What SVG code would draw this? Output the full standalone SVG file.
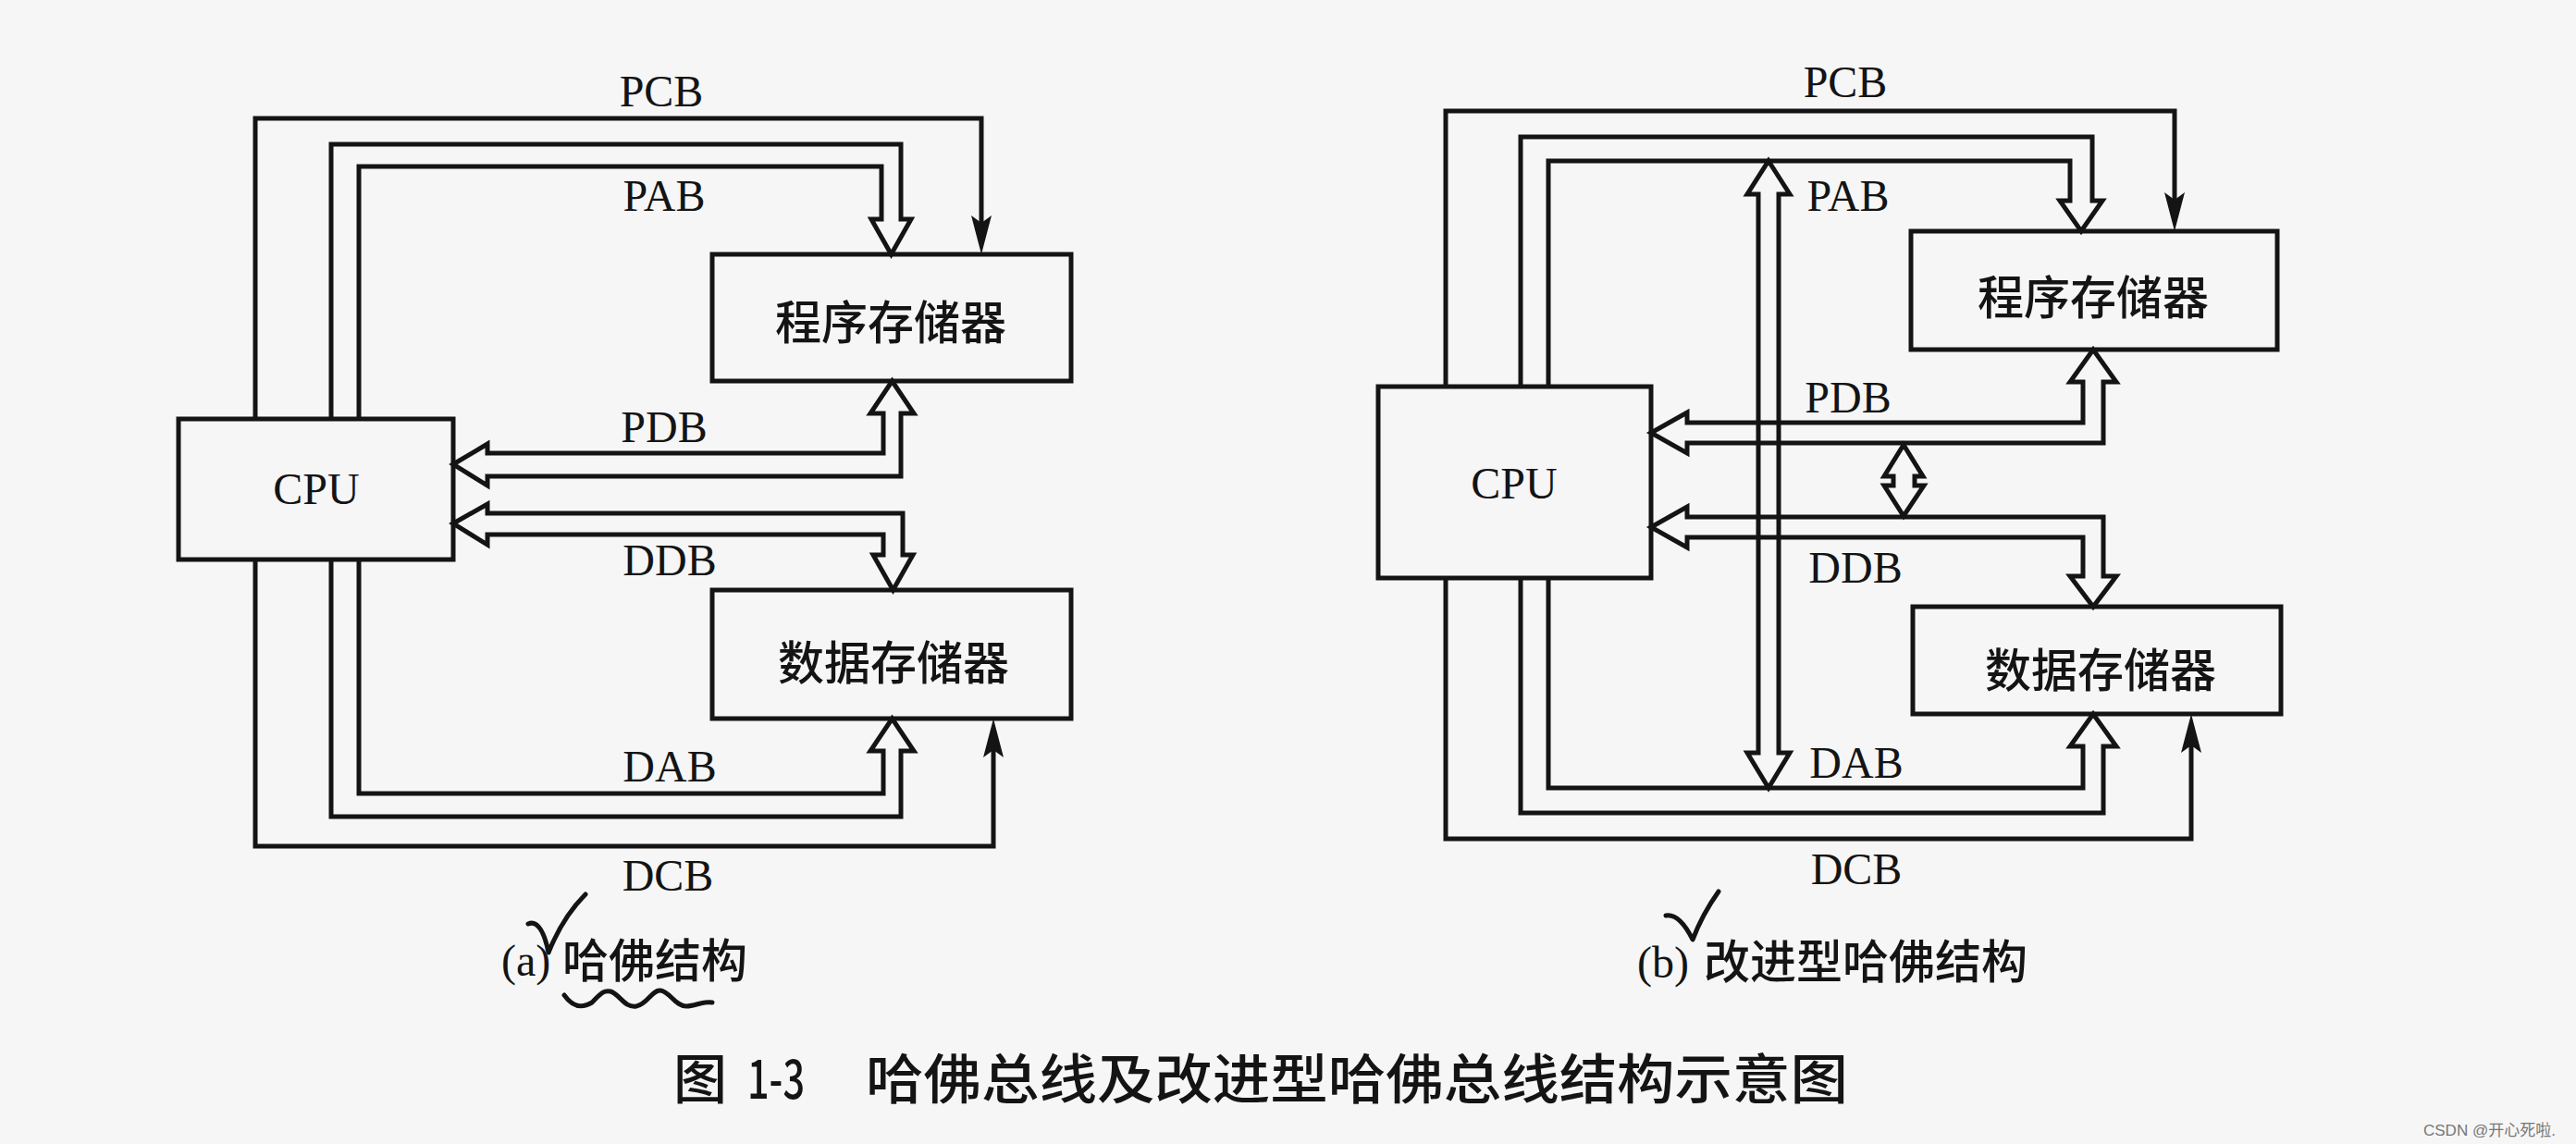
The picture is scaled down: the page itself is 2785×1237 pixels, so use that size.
<svg xmlns="http://www.w3.org/2000/svg" width="2785" height="1237" viewBox="0 0 2785 1237">
  <style>
    .box { fill: none; stroke: #141414; stroke-width: 5; }
    .bus { fill: none; stroke: #141414; stroke-width: 5; stroke-linejoin: miter; }
    .ctl { fill: none; stroke: #141414; stroke-width: 5; }
    .lat { font-family: "Liberation Serif", "Times New Roman", serif; font-size: 48px; fill: #141414; }
    .cjk { font-family: "Noto Sans CJK SC", "Noto Sans", sans-serif; font-size: 50px; fill: #141414; font-weight: 500; }
    .cap { font-family: "Noto Sans CJK SC", "Noto Sans", sans-serif; font-size: 58px; fill: #141414; font-weight: 500; }
    .hand { fill: none; stroke: #141414; stroke-width: 5; stroke-linecap: round; stroke-linejoin: round; }
    .wm { font-family: "Liberation Sans", "Noto Sans CJK SC", sans-serif; font-size: 17px; fill: #777777; }
  </style>
  <defs>
    <marker id="solid" markerUnits="userSpaceOnUse" markerWidth="60" markerHeight="40" refX="0" refY="0" orient="auto" overflow="visible" viewBox="-20 -20 60 40">
      <path d="M30,0 L-12,-11 L-4,0 L-12,11 Z" fill="#141414"/>
    </marker>
  </defs>
  <rect x="0" y="0" width="2785" height="1237" fill="#f6f6f6"/>

  <!-- Diagram (a) nodes -->
  <g id="cpu-a">
    <rect class="box" x="193" y="453" width="297" height="152"/>
    <text class="lat" x="342" y="545" text-anchor="middle">CPU</text>
  </g>
  <g id="prog-a">
    <rect class="box" x="770" y="275" width="388" height="137"/>
    <text class="cjk" x="963" y="367" text-anchor="middle">程序存储器</text>
  </g>
  <g id="data-a">
    <rect class="box" x="770" y="638" width="388" height="139"/>
    <text class="cjk" x="966" y="735" text-anchor="middle">数据存储器</text>
  </g>

  <!-- Diagram (b) nodes -->
  <g id="cpu-b">
    <rect class="box" x="1490" y="418" width="295" height="207"/>
    <text class="lat" x="1637" y="539" text-anchor="middle">CPU</text>
  </g>
  <g id="prog-b">
    <rect class="box" x="2066" y="250" width="396" height="128"/>
    <text class="cjk" x="2263" y="340" text-anchor="middle">程序存储器</text>
  </g>
  <g id="data-b">
    <rect class="box" x="2068" y="656" width="398" height="116"/>
    <text class="cjk" x="2271" y="743" text-anchor="middle">数据存储器</text>
  </g>

  <!-- Connectors -->
  <g id="connectors">
    <!-- (a) PCB -->
    <path class="ctl" d="M276,453 V128 H1061 V245" marker-end="url(#solid)"/>
    <!-- (a) PAB -->
    <path class="bus" d="M388,453 V180 H953 V237 H942 L963.5,275 L985,237 H974 V156 H358 V453"/>
    <!-- (a) PDB -->
    <path class="bus" d="M490,502 L527,480 V490 H955 V447 H941 L964.5,412 L988,447 H974 V515 H527 V525 Z"/>
    <!-- (a) DDB -->
    <path class="bus" d="M490,566 L527,545 V555 H976 V600 H987 L965.5,638 L944,600 H955 V578 H527 V589 Z"/>
    <!-- (a) DAB -->
    <path class="bus" d="M388,605 V858 H955 V812 H941 L964.5,777 L988,812 H974 V883 H358 V605"/>
    <!-- (a) DCB -->
    <path class="ctl" d="M276,605 V915 H1074 V807" marker-end="url(#solid)"/>

    <!-- (b) PCB -->
    <path class="ctl" d="M1563,418 V120 H2351 V220" marker-end="url(#solid)"/>
    <!-- (b) PAB -->
    <path class="bus" d="M1674,418 V174 H2238 V217 H2227 L2250,250 L2273,217 H2262 V148 H1644 V418"/>
    <!-- (b) PAB-DAB link -->
    <path class="bus" d="M1912,174 L1935,210 H1923 V814 H1935 L1912,852 L1889,814 H1901 V210 H1889 Z"/>
    <!-- (b) PDB -->
    <path class="bus" d="M1785,468 L1824,446 V457 H2252 V413 H2238 L2263,378 L2288,413 H2274 V479 H1824 V490 Z"/>
    <!-- (b) PDB-DDB link -->
    <path class="bus" d="M2058,481 L2079,515 H2070 V525 H2080 L2058,558 L2037,525 H2047 V515 H2037 Z"/>
    <!-- (b) DDB -->
    <path class="bus" d="M1785,570 L1824,548 V559 H2274 V623 H2288 L2263,656 L2238,623 H2252 V581 H1824 V592 Z"/>
    <!-- (b) DAB -->
    <path class="bus" d="M1674,625 V852 H2252 V807 H2238 L2263,772 L2288,807 H2274 V879 H1644 V625"/>
    <!-- (b) DCB -->
    <path class="ctl" d="M1563,625 V907 H2369 V802" marker-end="url(#solid)"/>
  </g>

  <!-- Bus labels -->
  <g id="labels-a">
    <text class="lat" x="715" y="115" text-anchor="middle">PCB</text>
    <text class="lat" x="718" y="228" text-anchor="middle">PAB</text>
    <text class="lat" x="718" y="478" text-anchor="middle">PDB</text>
    <text class="lat" x="724" y="622" text-anchor="middle">DDB</text>
    <text class="lat" x="724" y="845" text-anchor="middle">DAB</text>
    <text class="lat" x="722" y="963" text-anchor="middle">DCB</text>
  </g>
  <g id="labels-b">
    <text class="lat" x="1995" y="105" text-anchor="middle">PCB</text>
    <text class="lat" x="1998" y="228" text-anchor="middle">PAB</text>
    <text class="lat" x="1998" y="446" text-anchor="middle">PDB</text>
    <text class="lat" x="2006" y="630" text-anchor="middle">DDB</text>
    <text class="lat" x="2007" y="841" text-anchor="middle">DAB</text>
    <text class="lat" x="2007" y="956" text-anchor="middle">DCB</text>
  </g>

  <!-- Sub-captions -->
  <g id="caption-a">
    <text class="lat" x="542" y="1055">(a)</text>
    <text class="cjk" x="608" y="1057">哈佛结构</text>
    <path class="hand" d="M571,999 C580,995 588,1005 593,1030 C605,1000 620,980 633,967"/>
    <path class="hand" d="M610,1076 C620,1090 630,1090 640,1084 C648,1076 652,1070 660,1072 C670,1075 675,1090 688,1088 C700,1086 705,1070 714,1071 C724,1072 730,1088 742,1088 C752,1088 760,1082 770,1084"/>
  </g>
  <g id="caption-b">
    <text class="lat" x="1770" y="1057">(b)</text>
    <text class="cjk" x="1842" y="1058">改进型哈佛结构</text>
    <path class="hand" d="M1801,990 C1812,988 1822,1000 1830,1016 C1838,995 1848,978 1858,964"/>
  </g>

  <!-- Figure caption -->
  <g id="figure-caption">
    <text class="cap" x="728" y="1188">图</text>
    <text class="cap" x="808" y="1188" textLength="62" lengthAdjust="spacingAndGlyphs">1-3</text>
    <text class="cap" x="936" y="1188" textLength="1062" lengthAdjust="spacingAndGlyphs">哈佛总线及改进型哈佛总线结构示意图</text>
  </g>

  <text class="wm" x="2620" y="1228">CSDN @开心死啦.</text>
</svg>
